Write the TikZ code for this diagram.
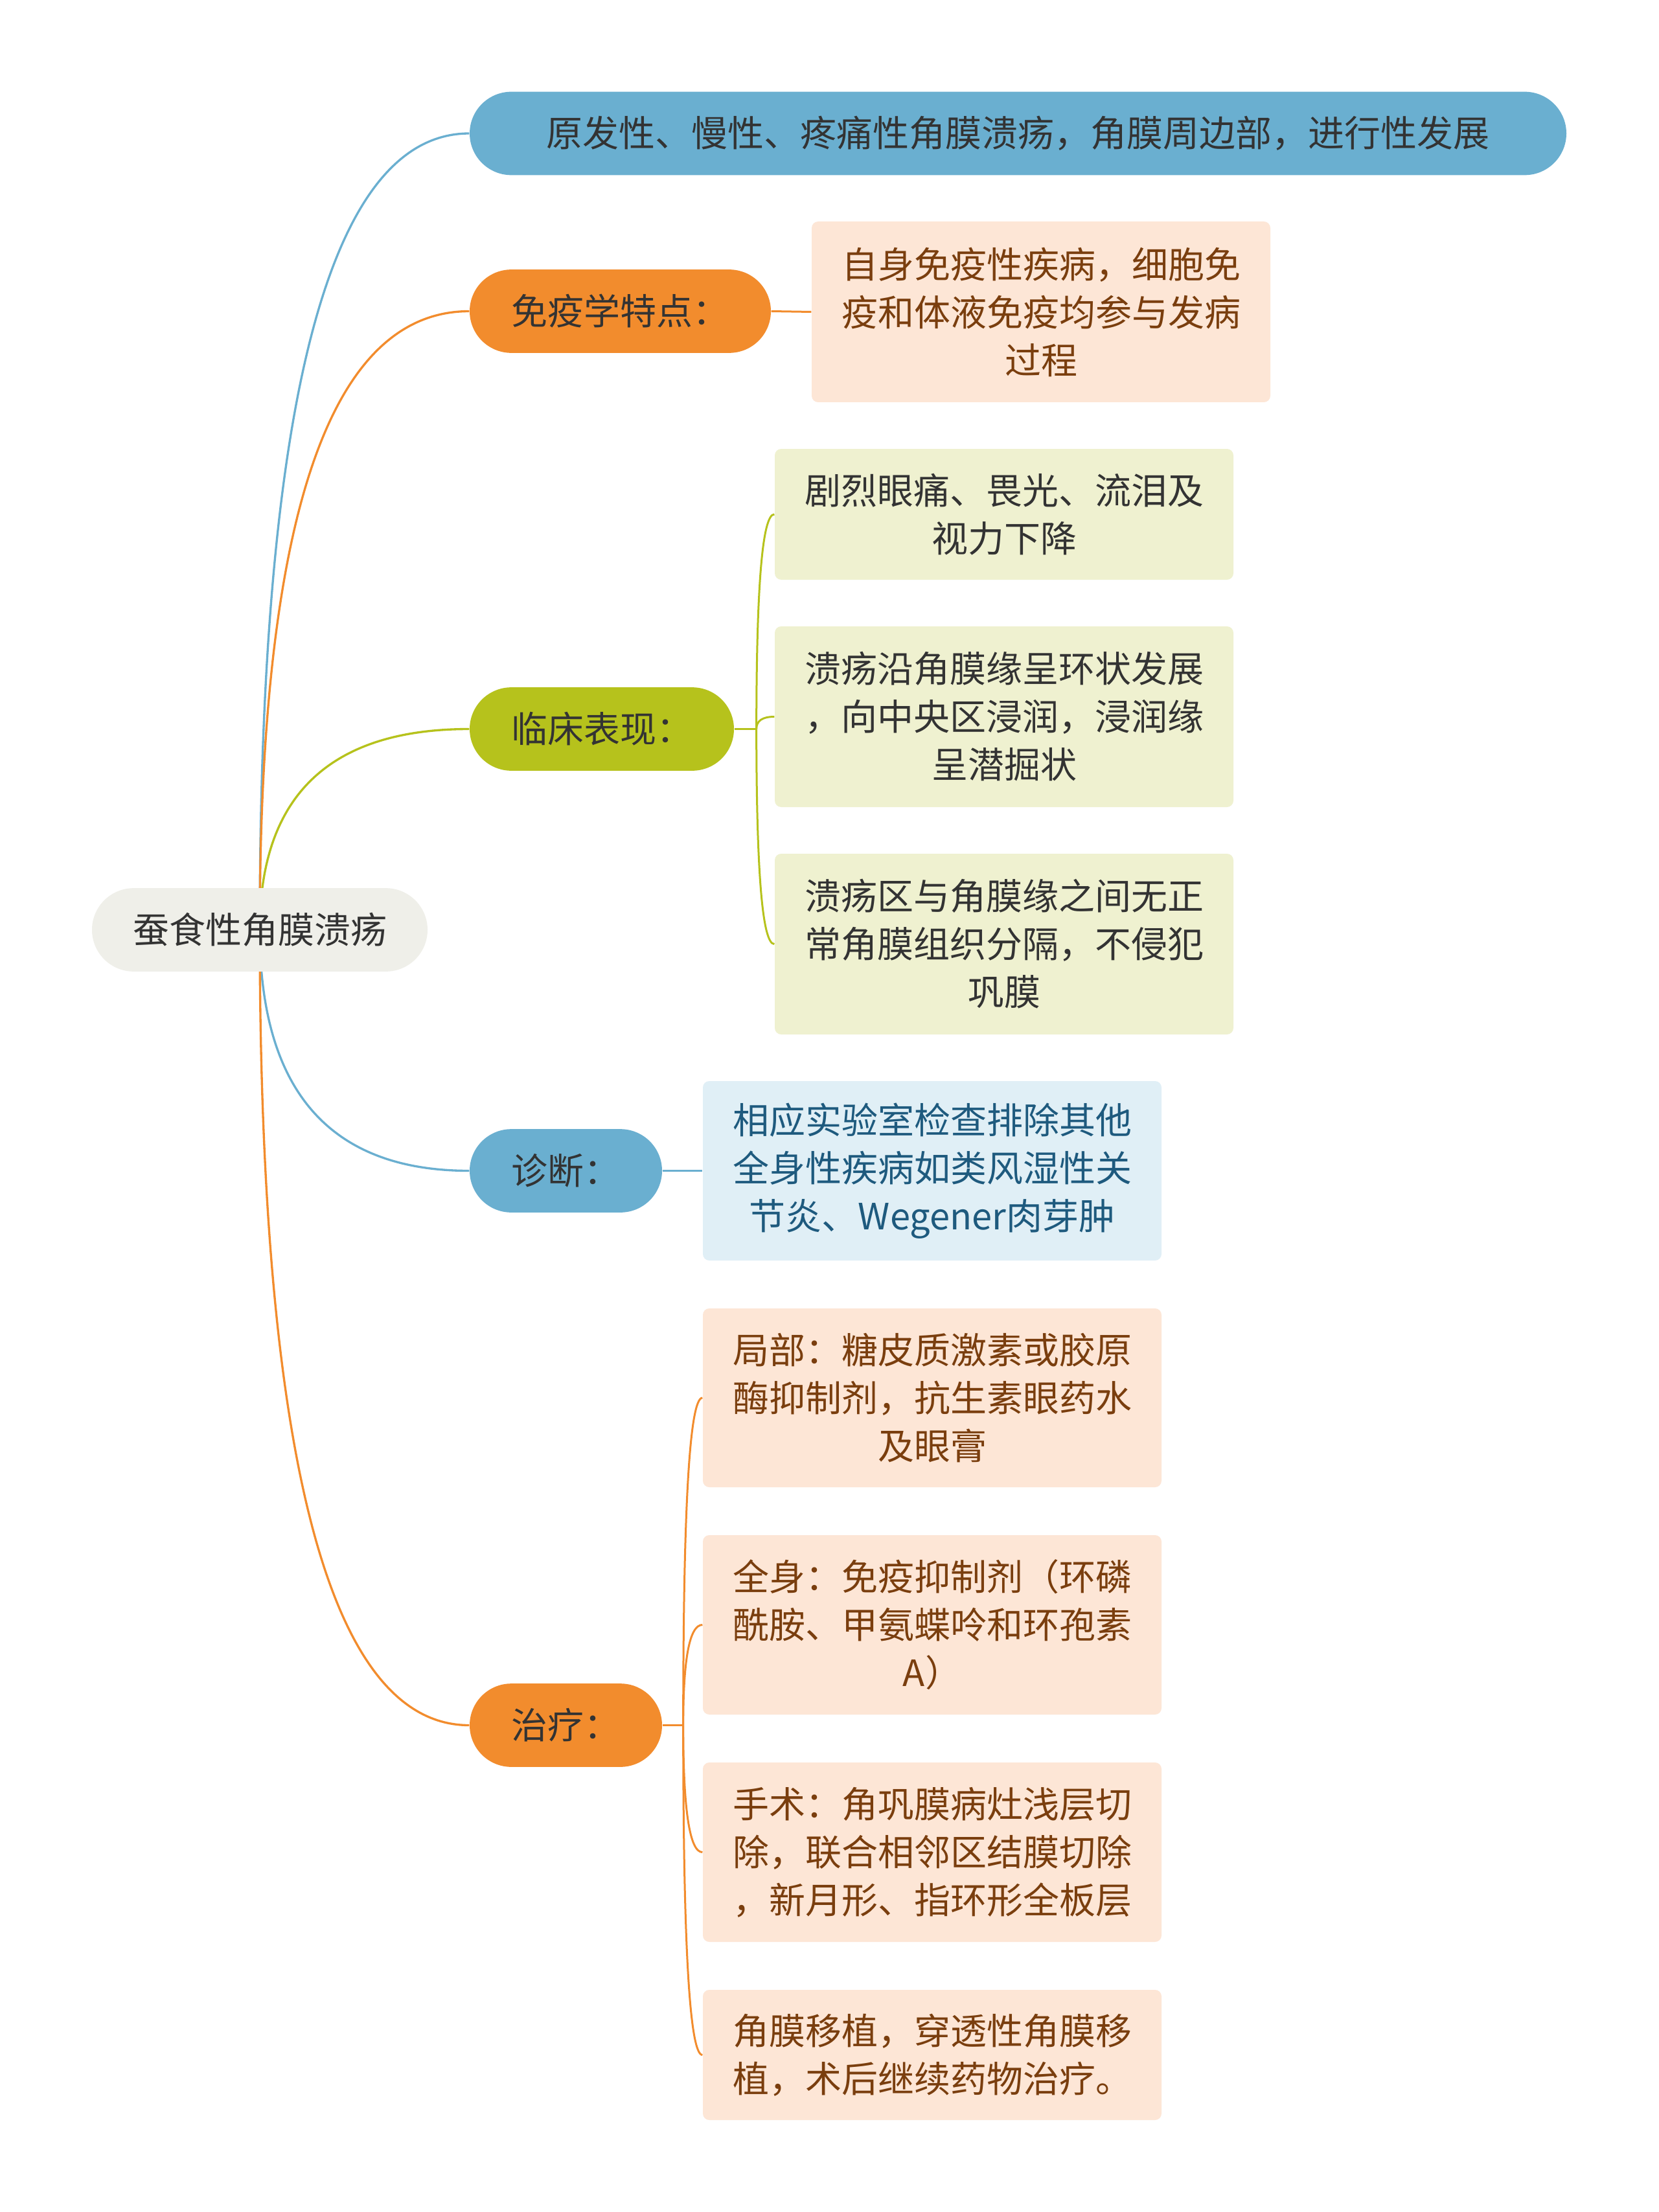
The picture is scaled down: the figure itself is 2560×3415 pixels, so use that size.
\documentclass[tikz,border=0pt]{standalone}
\usepackage{fontspec}
\setmainfont{Noto Sans CJK SC}
\usetikzlibrary{calc,backgrounds}
\definecolor{cblue}{HTML}{6AAFD0}
\definecolor{corange}{HTML}{F28C2D}
\definecolor{cgreen}{HTML}{B6C21C}
\definecolor{croot}{HTML}{EFEFE9}
\definecolor{forange}{HTML}{FDE6D6}
\definecolor{fgreen}{HTML}{EFF1D0}
\definecolor{fblue}{HTML}{E0EFF6}
\definecolor{tdark}{HTML}{333333}
\definecolor{tbrown}{HTML}{7A3E0E}
\definecolor{tblue}{HTML}{1E5A7E}
\newcommand\mmfont{\fontsize{16.8pt}{22.2pt}\selectfont}
\newcommand\rootcurve[3]{%
  \coordinate (q#2) at (#1.center |- #2.west);
  \draw[line width=1pt,#3] (#1.center) .. controls ($(#1.center)!0.6667!(q#2)$) and ($(#2.west)!0.6667!(q#2)$) .. (#2.west);}
\newcommand\brcurve[3]{%
  \coordinate (q#2) at (#1 |- #2.west);
  \draw[line width=0.9pt,#3] (#1) .. controls ($(#1)!0.6667!(q#2)$) and ($(#2.west)!0.6667!(q#2)$) .. (#2.west);}
\tikzset{
  pill/.style={rounded corners=19.3pt, minimum height=38.6pt, inner sep=0pt, font=\mmfont, text=tdark, align=center},
  leaf/.style={rounded corners=3pt, minimum width=212.4pt, inner sep=0pt, font=\mmfont, align=center},
}
\begin{document}
\begin{tikzpicture}[x=0.3pt,y=-0.3pt]
\useasboundingbox (0,0) rectangle (2560,3415);
% main nodes
\node[pill, fill=croot, minimum width=155.4pt] (root) at (401,1435.5) {蚕食性角膜溃疡};
\node[pill, fill=cblue, minimum width=507.9pt] (top) at (1571.5,206) {原发性、慢性、疼痛性角膜溃疡，角膜周边部，进行性发展};
\node[pill, fill=corange, minimum width=139.5pt] (imm) at (957.5,480.5) {免疫学特点：};
\node[pill, fill=cgreen, minimum width=122.4pt] (clin) at (929,1125.5) {临床表现：};
\node[pill, fill=cblue, minimum width=89.1pt] (diag) at (873.5,1807.5) {诊断：};
\node[pill, fill=corange, minimum width=89.1pt] (treat) at (873.5,2663.5) {治疗：};
% leaves
\node[leaf, fill=forange, text=tbrown, minimum height=83.7pt] (immc) at (1607,481.5) {自身免疫性疾病，细胞免\\疫和体液免疫均参与发病\\过程};
\node[leaf, fill=fgreen, text=tdark, minimum height=60.6pt] (cl1) at (1550,794) {剧烈眼痛、畏光、流泪及\\视力下降};
\node[leaf, fill=fgreen, text=tdark, minimum height=83.7pt] (cl2) at (1550,1106.5) {溃疡沿角膜缘呈环状发展\\，向中央区浸润，浸润缘\\呈潜掘状};
\node[leaf, fill=fgreen, text=tdark, minimum height=83.7pt] (cl3) at (1550,1457.5) {溃疡区与角膜缘之间无正\\常角膜组织分隔，不侵犯\\巩膜};
\node[leaf, fill=fblue, text=tblue, minimum height=83.1pt] (diagc) at (1439,1807.5) {相应实验室检查排除其他\\全身性疾病如类风湿性关\\节炎、Wegener肉芽肿};
\node[leaf, fill=forange, text=tbrown, minimum height=82.8pt] (tr1) at (1439,2158) {局部：糖皮质激素或胶原\\酶抑制剂，抗生素眼药水\\及眼膏};
\node[leaf, fill=forange, text=tbrown, minimum height=83.1pt] (tr2) at (1439,2508.5) {全身：免疫抑制剂（环磷\\酰胺、甲氨蝶呤和环孢素\\A）};
\node[leaf, fill=forange, text=tbrown, minimum height=83.1pt] (tr3) at (1439,2859.5) {手术：角巩膜病灶浅层切\\除，联合相邻区结膜切除\\，新月形、指环形全板层};
\node[leaf, fill=forange, text=tbrown, minimum height=60.3pt] (tr4) at (1439,3172.5) {角膜移植，穿透性角膜移\\植，术后继续药物治疗。};
% connectors, behind the nodes
\begin{scope}[on background layer]
\fill[white] (0,0) rectangle (2560,3415);
\rootcurve{root}{top}{cblue}
\rootcurve{root}{imm}{corange}
\rootcurve{root}{clin}{cgreen}
\rootcurve{root}{diag}{cblue}
\rootcurve{root}{treat}{corange}
\draw[line width=0.9pt, corange] (imm.east) -- (immc.west);
\draw[line width=0.9pt, cblue] (diag.east) -- (diagc.west);
\coordinate (clb) at ($(clin.east)+(34,0)$);
\draw[line width=0.9pt, cgreen] (clin.east) -- (clb);
\brcurve{clb}{cl1}{cgreen}
\brcurve{clb}{cl2}{cgreen}
\brcurve{clb}{cl3}{cgreen}
\coordinate (trb) at ($(treat.east)+(32,0)$);
\draw[line width=0.9pt, corange] (treat.east) -- (trb);
\brcurve{trb}{tr1}{corange}
\brcurve{trb}{tr2}{corange}
\brcurve{trb}{tr3}{corange}
\brcurve{trb}{tr4}{corange}
\end{scope}
\end{tikzpicture}
\end{document}
